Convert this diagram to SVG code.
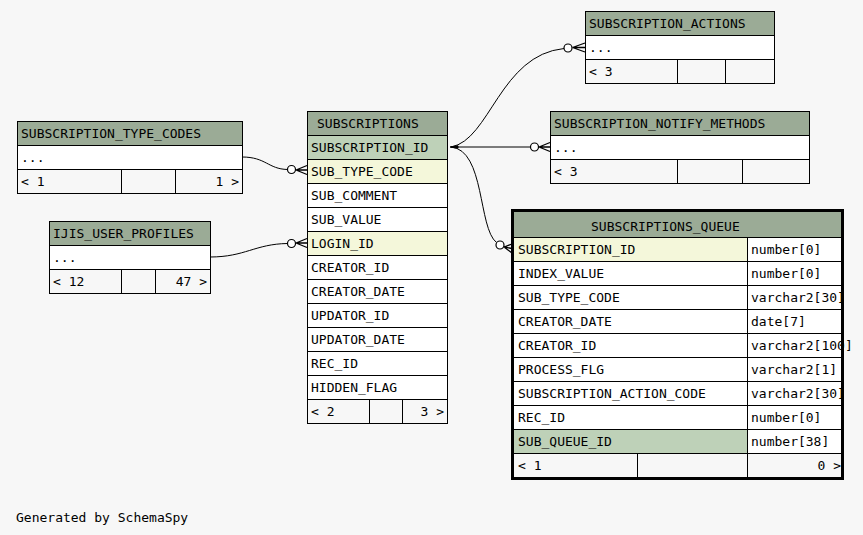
<svg xmlns="http://www.w3.org/2000/svg" width="863" height="535" viewBox="0 0 863 535">
<style>
text{font-family:"DejaVu Sans Mono","Liberation Mono",monospace;font-size:13px;fill:#000}
.c{stroke:#000;stroke-width:1}
.hd{fill:#9bab96}
.pk{fill:#bed1b8}
.fk{fill:#f4f7da}
.bd{fill:#fff}
.ft{fill:#f7f7f7}
.e{text-anchor:end}
.ln{fill:none;stroke:#000;stroke-width:1}
.ck{fill:none;stroke:#000;stroke-width:1.3}
.dot{fill:#fff;stroke:#000;stroke-width:1.2}
</style>
<rect width="863" height="535" fill="#f7f7f7"/>

<g id="connectors">
  <path class="ln" d="M242,157 C266,157 268,169 287.5,169.5"/>
  <circle class="dot" cx="291.5" cy="169.5" r="4"/>
  <path class="ck" d="M296,170 L307,165.5 M296,170 L307,170 M296,170 L307,174.5"/>

  <path class="ln" d="M210,257 C245,257 255,244 287.5,243.5"/>
  <circle class="dot" cx="291.5" cy="243.5" r="4"/>
  <path class="ck" d="M296,243 L307,238.5 M296,243 L307,243 M296,243 L307,247.5"/>

  <path d="M450,147 L458,145.8 L458,148.2 Z" fill="#000" stroke="#000"/>
  <path class="ln" d="M451,147 C490,140 500,55 564,48.5"/>
  <circle class="dot" cx="568" cy="48" r="4"/>
  <path class="ck" d="M572.5,47.5 L585,43 M572.5,47.5 L585,47.5 M572.5,47.5 L585,52"/>

  <path class="ln" d="M451,147 L530,147"/>
  <circle class="dot" cx="534.5" cy="147" r="4"/>
  <path class="ck" d="M539,147 L550,142.5 M539,147 L550,147 M539,147 L550,151.5"/>

  <path class="ln" d="M451,147 C485,150 478,228 496.5,242.5"/>
  <circle class="dot" cx="500" cy="245" r="4"/>
  <path class="ck" d="M504,247 L512,244 M504,247 L512,248.5 M504,247 L512,253"/>
</g>

<g id="SUBSCRIPTION_TYPE_CODES">
  <rect class="c hd" x="17.5" y="121.5" width="225" height="24"/>
  <rect class="c bd" x="17.5" y="145.5" width="225" height="24"/>
  <rect class="c ft" x="17.5" y="169.5" width="225" height="24"/>
  <path class="c" d="M121.5,169.5V193.5M175.5,169.5V193.5"/>
  <text x="21" y="138">SUBSCRIPTION_TYPE_CODES</text>
  <text x="21" y="162">...</text>
  <text x="21" y="186">&lt; 1</text>
  <text class="e" x="239" y="186">1 &gt;</text>
</g>

<g id="IJIS_USER_PROFILES">
  <rect class="c hd" x="49.5" y="221.5" width="161" height="24"/>
  <rect class="c bd" x="49.5" y="245.5" width="161" height="24"/>
  <rect class="c ft" x="49.5" y="269.5" width="161" height="24"/>
  <path class="c" d="M121.5,269.5V293.5M155.5,269.5V293.5"/>
  <text x="53" y="238">IJIS_USER_PROFILES</text>
  <text x="53" y="262">...</text>
  <text x="53" y="286">&lt; 12</text>
  <text class="e" x="207" y="286">47 &gt;</text>
</g>

<g id="SUBSCRIPTIONS">
  <rect class="c hd" x="307.5" y="111.5" width="140" height="24"/>
  <rect class="c pk" x="307.5" y="135.5" width="140" height="24"/>
  <rect class="c fk" x="307.5" y="159.5" width="140" height="24"/>
  <rect class="c bd" x="307.5" y="183.5" width="140" height="24"/>
  <rect class="c bd" x="307.5" y="207.5" width="140" height="24"/>
  <rect class="c fk" x="307.5" y="231.5" width="140" height="24"/>
  <rect class="c bd" x="307.5" y="255.5" width="140" height="24"/>
  <rect class="c bd" x="307.5" y="279.5" width="140" height="24"/>
  <rect class="c bd" x="307.5" y="303.5" width="140" height="24"/>
  <rect class="c bd" x="307.5" y="327.5" width="140" height="24"/>
  <rect class="c bd" x="307.5" y="351.5" width="140" height="24"/>
  <rect class="c bd" x="307.5" y="375.5" width="140" height="24"/>
  <rect class="c ft" x="307.5" y="399.5" width="140" height="24"/>
  <path class="c" d="M369.5,399.5V423.5M402.5,399.5V423.5"/>
  <text x="317" y="128">SUBSCRIPTIONS</text>
  <text x="311" y="152">SUBSCRIPTION_ID</text>
  <text x="311" y="176">SUB_TYPE_CODE</text>
  <text x="311" y="200">SUB_COMMENT</text>
  <text x="311" y="224">SUB_VALUE</text>
  <text x="311" y="248">LOGIN_ID</text>
  <text x="311" y="272">CREATOR_ID</text>
  <text x="311" y="296">CREATOR_DATE</text>
  <text x="311" y="320">UPDATOR_ID</text>
  <text x="311" y="344">UPDATOR_DATE</text>
  <text x="311" y="368">REC_ID</text>
  <text x="311" y="392">HIDDEN_FLAG</text>
  <text x="311" y="416">&lt; 2</text>
  <text class="e" x="444" y="416">3 &gt;</text>
</g>

<g id="SUBSCRIPTION_ACTIONS">
  <rect class="c hd" x="585.5" y="11.5" width="189" height="24"/>
  <rect class="c bd" x="585.5" y="35.5" width="189" height="24"/>
  <rect class="c ft" x="585.5" y="59.5" width="189" height="24"/>
  <path class="c" d="M677.5,59.5V83.5M725.5,59.5V83.5"/>
  <text x="589" y="28">SUBSCRIPTION_ACTIONS</text>
  <text x="589" y="52">...</text>
  <text x="589" y="76">&lt; 3</text>
</g>

<g id="SUBSCRIPTION_NOTIFY_METHODS">
  <rect class="c hd" x="550.5" y="111.5" width="259" height="24"/>
  <rect class="c bd" x="550.5" y="135.5" width="259" height="24"/>
  <rect class="c ft" x="550.5" y="159.5" width="259" height="24"/>
  <path class="c" d="M677.5,159.5V183.5M742.5,159.5V183.5"/>
  <text x="554" y="128">SUBSCRIPTION_NOTIFY_METHODS</text>
  <text x="554" y="152">...</text>
  <text x="554" y="176">&lt; 3</text>
</g>

<g id="SUBSCRIPTIONS_QUEUE">
  <rect class="hd" x="512" y="211" width="331" height="26"/>
  <path class="c" d="M512,237.5H843"/>
  <rect class="c fk" x="512.5" y="237.5" width="235" height="24"/>
  <rect class="c bd" x="747.5" y="237.5" width="96" height="24"/>
  <rect class="c bd" x="512.5" y="261.5" width="235" height="24"/>
  <rect class="c bd" x="747.5" y="261.5" width="96" height="24"/>
  <rect class="c bd" x="512.5" y="285.5" width="235" height="24"/>
  <rect class="c bd" x="747.5" y="285.5" width="96" height="24"/>
  <rect class="c bd" x="512.5" y="309.5" width="235" height="24"/>
  <rect class="c bd" x="747.5" y="309.5" width="96" height="24"/>
  <rect class="c bd" x="512.5" y="333.5" width="235" height="24"/>
  <rect class="c bd" x="747.5" y="333.5" width="96" height="24"/>
  <rect class="c bd" x="512.5" y="357.5" width="235" height="24"/>
  <rect class="c bd" x="747.5" y="357.5" width="96" height="24"/>
  <rect class="c bd" x="512.5" y="381.5" width="235" height="24"/>
  <rect class="c bd" x="747.5" y="381.5" width="96" height="24"/>
  <rect class="c bd" x="512.5" y="405.5" width="235" height="24"/>
  <rect class="c bd" x="747.5" y="405.5" width="96" height="24"/>
  <rect class="c pk" x="512.5" y="429.5" width="235" height="24"/>
  <rect class="c bd" x="747.5" y="429.5" width="96" height="24"/>
  <rect class="c ft" x="512.5" y="453.5" width="331" height="24"/>
  <path class="c" d="M637.5,453.5V477.5M747.5,453.5V477.5"/>
  <text x="591" y="230.5">SUBSCRIPTIONS_QUEUE</text>
  <text x="518" y="254">SUBSCRIPTION_ID</text>
  <text x="751" y="254">number[0]</text>
  <text x="518" y="278">INDEX_VALUE</text>
  <text x="751" y="278">number[0]</text>
  <text x="518" y="302">SUB_TYPE_CODE</text>
  <text x="751" y="302">varchar2[30]</text>
  <text x="518" y="326">CREATOR_DATE</text>
  <text x="751" y="326">date[7]</text>
  <text x="518" y="350">CREATOR_ID</text>
  <text x="751" y="350">varchar2[100]</text>
  <text x="518" y="374">PROCESS_FLG</text>
  <text x="751" y="374">varchar2[1]</text>
  <text x="518" y="398">SUBSCRIPTION_ACTION_CODE</text>
  <text x="751" y="398">varchar2[30]</text>
  <text x="518" y="422">REC_ID</text>
  <text x="751" y="422">number[0]</text>
  <text x="518" y="446">SUB_QUEUE_ID</text>
  <text x="751" y="446">number[38]</text>
  <text x="518" y="470">&lt; 1</text>
  <text class="e" x="841" y="470">0 &gt;</text>
  <rect x="512.5" y="210.5" width="330" height="268" fill="none" stroke="#000" stroke-width="3"/>
</g>

<text x="16" y="522">Generated by SchemaSpy</text>
</svg>
